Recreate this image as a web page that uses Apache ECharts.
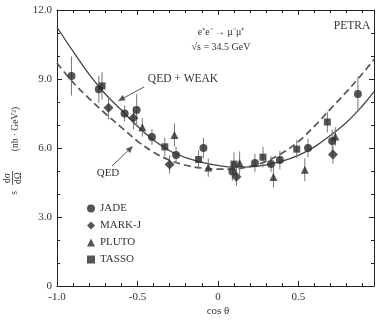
<!DOCTYPE html>
<html>
<head>
<meta charset="utf-8">
<script src="https://cdn.jsdelivr.net/npm/echarts@6/dist/echarts.min.js"></script>
<style>
html,body{margin:0;padding:0;background:#fff;}
#chart{width:378px;height:322px;}
</style>
</head>
<body>
<div id="chart"></div>
<script>
// ---- data ----
const xTicks = [-1.0, -0.5, 0, 0.5];
const yTicks = [0, 3, 6, 9, 12];

const curveCos = [-1.0, -0.9, -0.8, -0.7, -0.6, -0.5, -0.4, -0.3, -0.2, -0.1, 0.0, 0.1, 0.2, 0.3, 0.4, 0.5, 0.6, 0.7, 0.8, 0.9, 0.97];
const qedWeak  = [11.25, 10.2, 9.2, 8.35, 7.65, 6.95, 6.35, 5.88, 5.58, 5.38, 5.24, 5.17, 5.18, 5.27, 5.43, 5.68, 6.05, 6.55, 7.12, 7.85, 8.45];
const qedOnly  = [9.7, 8.85, 8.15, 7.5, 6.9, 6.3, 5.82, 5.47, 5.25, 5.13, 5.08, 5.09, 5.2, 5.42, 5.78, 6.28, 6.95, 7.7, 8.45, 9.25, 9.85];

const jadeCos = [-0.91, -0.74, -0.58, -0.505, -0.41, -0.26, -0.09, 0.09, 0.23, 0.33, 0.385, 0.56, 0.71, 0.87];
const jadeVal = [9.13, 8.55, 7.5, 7.65, 6.48, 5.7, 6.0, 4.98, 5.35, 5.3, 5.48, 6.0, 6.3, 8.35];
const jadeErr = [0.85, 0.6, 0.35, 0.7, 0.35, 0.35, 0.45, 0.4, 0.4, 0.35, 0.4, 0.4, 0.5, 0.75];

const markjCos = [-0.68, -0.525, -0.30, 0.115, 0.715];
const markjVal = [7.75, 7.3, 5.28, 4.75, 5.72];
const markjErr = [0.5, 0.5, 0.4, 0.4, 0.4];

const plutoCos = [-0.47, -0.27, -0.06, 0.135, 0.345, 0.54, 0.73];
const plutoVal = [6.9, 6.57, 5.15, 5.35, 4.74, 5.05, 6.5];
const plutoErr = [0.4, 0.5, 0.4, 0.5, 0.45, 0.5, 0.4];

const tassoCos = [-0.72, -0.33, -0.12, 0.10, 0.28, 0.49, 0.68];
const tassoVal = [8.7, 6.05, 5.5, 5.3, 5.6, 5.95, 7.13];
const tassoErr = [0.6, 0.4, 0.4, 0.5, 0.45, 0.4, 0.45];

// ---- build ----
const FONT = 'Liberation Serif';
const INK = '#333';
const MARK = '#2b2b2b';

function zip2(a, b) { return a.map((v, i) => [v, b[i]]); }
function zip3(a, b, c) { return a.map((v, i) => [v, b[i], c[i]]); }

const experiments = [
  { name: 'JADE', cos: jadeCos, val: jadeVal, err: jadeErr, symbol: 'circle', size: 8 },
  { name: 'MARK-J', cos: markjCos, val: markjVal, err: markjErr, symbol: 'diamond', size: 10 },
  { name: 'PLUTO', cos: plutoCos, val: plutoVal, err: plutoErr, symbol: 'triangle', size: 8 },
  { name: 'TASSO', cos: tassoCos, val: tassoVal, err: tassoErr, symbol: 'rect', size: 7 }
];

const XMIN = -1.0, XMAX = 0.97;
const baseX = { type: 'value', min: XMIN, max: XMAX, splitLine: { show: false } };
const baseY = { type: 'value', min: 0, max: 12, interval: 3, splitLine: { show: false } };
const lineStyle = { color: '#222', width: 1 };

const series = [];
series.push({
  type: 'line', name: 'QED', data: zip2(curveCos, qedOnly), smooth: 0.4, symbol: 'none',
  lineStyle: { color: '#555', width: 1.7, type: [7, 4] }, z: 2, silent: true
});
series.push({
  type: 'line', name: 'QED + WEAK', data: zip2(curveCos, qedWeak), smooth: 0.4, symbol: 'none',
  lineStyle: { color: '#444', width: 1.3 }, z: 2, silent: true
});
experiments.forEach(e => {
  series.push({
    type: 'custom', name: e.name + ' err', data: zip3(e.cos, e.val, e.err), z: 3, silent: true,
    renderItem: function (params, api) {
      const x = api.value(0), y = api.value(1), er = api.value(2);
      const p1 = api.coord([x, y - er]), p2 = api.coord([x, y + er]);
      return { type: 'line', shape: { x1: p1[0], y1: p1[1], x2: p2[0], y2: p2[1] },
               style: { stroke: '#777', lineWidth: 1 } };
    }
  });
  series.push({
    type: 'scatter', name: e.name, data: zip2(e.cos, e.val), symbol: e.symbol, symbolSize: e.size,
    itemStyle: { color: MARK }, z: 4
  });
});

function arrow(x1, y1, x2, y2) {
  const ang = Math.atan2(y2 - y1, x2 - x1);
  const L = 7, W = 3;
  const bx = x2 - L * Math.cos(ang), by = y2 - L * Math.sin(ang);
  const nx = -Math.sin(ang) * W, ny = Math.cos(ang) * W;
  return [
    { type: 'line', shape: { x1: x1, y1: y1, x2: bx, y2: by }, style: { stroke: '#555', lineWidth: 1 } },
    { type: 'polygon', shape: { points: [[x2, y2], [bx + nx, by + ny], [bx - nx, by - ny]] }, style: { fill: '#555' } }
  ];
}

function txt(x, y, s, size, opts) {
  return Object.assign({
    type: 'text', x: x, y: y,
    style: { text: s, font: (size) + 'px "' + FONT + '"', fill: INK, textAlign: 'center', textVerticalAlign: 'middle' }
  }, opts || {});
}

const graphics = [
  txt(221, 32, 'e\u207Ae\u207B \u2192 \u03BC\u207B\u03BC\u207A', 10),
  txt(221, 47, '\u221As = 34.5 GeV', 10),
  txt(352, 26, 'PETRA', 11.5),
  txt(183, 79, 'QED + WEAK', 11.5),
  txt(108, 173, 'QED', 11),
  txt(218, 311, 'cos \u03B8', 11),
  txt(15, 129, '(nb \u00B7 GeV\u00B2)', 9.5, { rotation: Math.PI / 2 }),
  txt(7, 178, 'd\u03C3', 9.5, { rotation: Math.PI / 2 }),
  txt(18, 178, 'd\u03A9', 9.5, { rotation: Math.PI / 2 }),
  { type: 'line', shape: { x1: 12.5, y1: 171, x2: 12.5, y2: 185 }, style: { stroke: INK, lineWidth: 0.8 } },
  txt(14, 193, 's', 9.5, { rotation: Math.PI / 2 })
].concat(arrow(144, 87, 118, 101)).concat(arrow(112, 166, 133, 146));

const option = {
  backgroundColor: '#fff',
  animation: false,
  grid: { left: 57, top: 10, width: 317, height: 276, containLabel: false },
  xAxis: [
    Object.assign({}, baseX, {
      position: 'bottom', interval: 0.5,
      axisLine: { show: true, lineStyle: lineStyle, onZero: false },
      axisTick: { show: true, inside: true, length: 5, lineStyle: lineStyle },
      axisLabel: { show: true, margin: 6, showMaxLabel: false, color: INK, fontFamily: FONT, fontSize: 11,
        formatter: v => (Math.abs(v) < 1e-9 ? '0' : (v < 0 ? '-' : '') + Math.abs(v).toFixed(1)) }
    }),
    Object.assign({}, baseX, {
      position: 'bottom', interval: 0.1,
      axisLine: { show: false, onZero: false },
      axisTick: { show: true, inside: true, length: 3, lineStyle: lineStyle },
      axisLabel: { show: false }
    }),
    Object.assign({}, baseX, {
      position: 'top', interval: 0.5,
      axisLine: { show: true, lineStyle: lineStyle, onZero: false },
      axisTick: { show: true, inside: true, length: 5, lineStyle: lineStyle },
      axisLabel: { show: false }
    }),
    Object.assign({}, baseX, {
      position: 'top', interval: 0.1,
      axisLine: { show: false, onZero: false },
      axisTick: { show: true, inside: true, length: 3, lineStyle: lineStyle },
      axisLabel: { show: false }
    })
  ],
  yAxis: [
    Object.assign({}, baseY, {
      position: 'left',
      axisLine: { show: true, lineStyle: lineStyle, onZero: false },
      axisTick: { show: true, inside: true, length: 5, lineStyle: lineStyle },
      minorTick: { show: true, splitNumber: 3, length: 3, lineStyle: lineStyle },
      axisLabel: { show: true, margin: 5, color: INK, fontFamily: FONT, fontSize: 11,
        formatter: v => (v === 0 ? '0' : v.toFixed(1)) }
    }),
    Object.assign({}, baseY, {
      position: 'right',
      axisLine: { show: true, lineStyle: lineStyle, onZero: false },
      axisTick: { show: true, inside: true, length: 5, lineStyle: lineStyle },
      minorTick: { show: true, splitNumber: 3, length: 3, lineStyle: lineStyle },
      axisLabel: { show: false }
    })
  ],
  legend: {
    data: ['JADE', 'MARK-J', 'PLUTO', 'TASSO'],
    orient: 'vertical', left: 82, top: 197,
    itemWidth: 8, itemHeight: 8, itemGap: 4, selectedMode: false,
    textStyle: { color: INK, fontFamily: FONT, fontSize: 11, lineHeight: 13 }
  },
  series: series,
  graphic: graphics
};

const chart = echarts.init(document.getElementById('chart'), null, { renderer: 'canvas' });
chart.setOption(option);
</script>
</body>
</html>
